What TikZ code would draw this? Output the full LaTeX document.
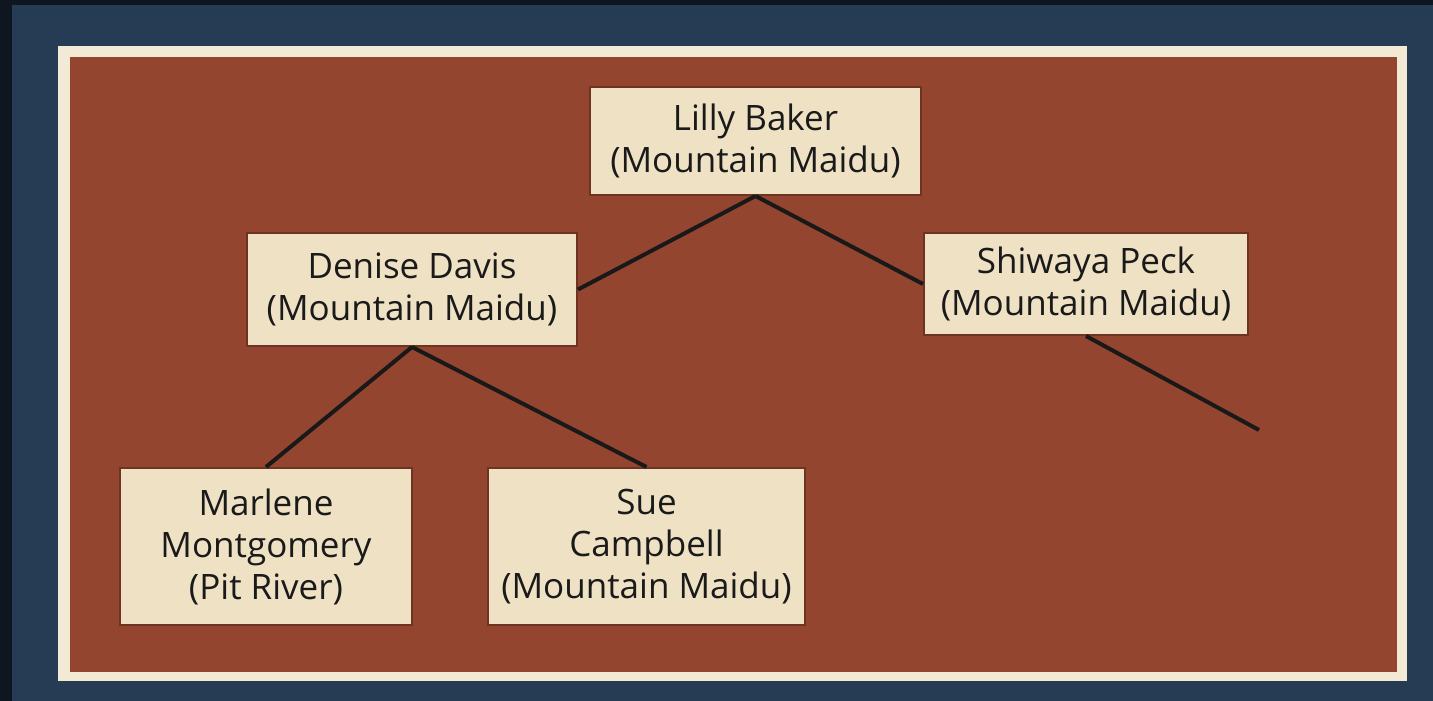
\documentclass[tikz,border=0pt]{standalone}
\usepackage{fontspec}
\setmainfont{Open Sans}
\definecolor{darkedge}{HTML}{0E1720}
\definecolor{navy}{HTML}{263C55}
\definecolor{frame}{HTML}{F3EAD6}
\definecolor{brick}{HTML}{93452F}
\definecolor{parch}{HTML}{EFE2C4}
\definecolor{boxline}{HTML}{6E3421}
\definecolor{ink}{HTML}{1A1A1A}
\tikzset{
  person/.style={draw=boxline, line width=2pt, fill=parch, text=ink, align=center,
    inner sep=0pt, font=\fontsize{35}{42}\selectfont},
  link/.style={draw=black!90, line width=4pt}
}
\begin{document}
\begin{tikzpicture}[x=1pt,y=-1pt]
\useasboundingbox (0,0) rectangle (1433,701);
\fill[darkedge] (0,0) rectangle (1433,701);
\fill[navy] (12,5) rectangle (1433,701);
\fill[frame] (58,46) rectangle (1407,681);
\fill[brick] (70,57) rectangle (1397,672);

\node[person, minimum width=331pt, minimum height=108pt] (lilly) at (755.5,141) {Lilly Baker\\(Mountain Maidu)};
\node[person, minimum width=330pt, minimum height=113pt] (denise) at (412,289.5) {Denise Davis\\(Mountain Maidu)};
\node[person, minimum width=324pt, minimum height=102pt] (shiwaya) at (1086,284) {Shiwaya Peck\\(Mountain Maidu)};
\node[person, minimum width=292pt, minimum height=157pt] (marlene) at (266,546.5) {Marlene\\Montgomery\\(Pit River)};
\node[person, minimum width=317pt, minimum height=157pt] (sue) at (646.5,546.5) {Sue\\Campbell\\(Mountain Maidu)};
\coordinate (free) at (1259,430);

\draw[link] (lilly.south) -- (denise.east);
\draw[link] (lilly.south) -- (shiwaya.west);
\draw[link] (denise.south) -- (marlene.north);
\draw[link] (denise.south) -- (sue.north);
\draw[link] (shiwaya.south) -- (free);
\end{tikzpicture}
\end{document}
